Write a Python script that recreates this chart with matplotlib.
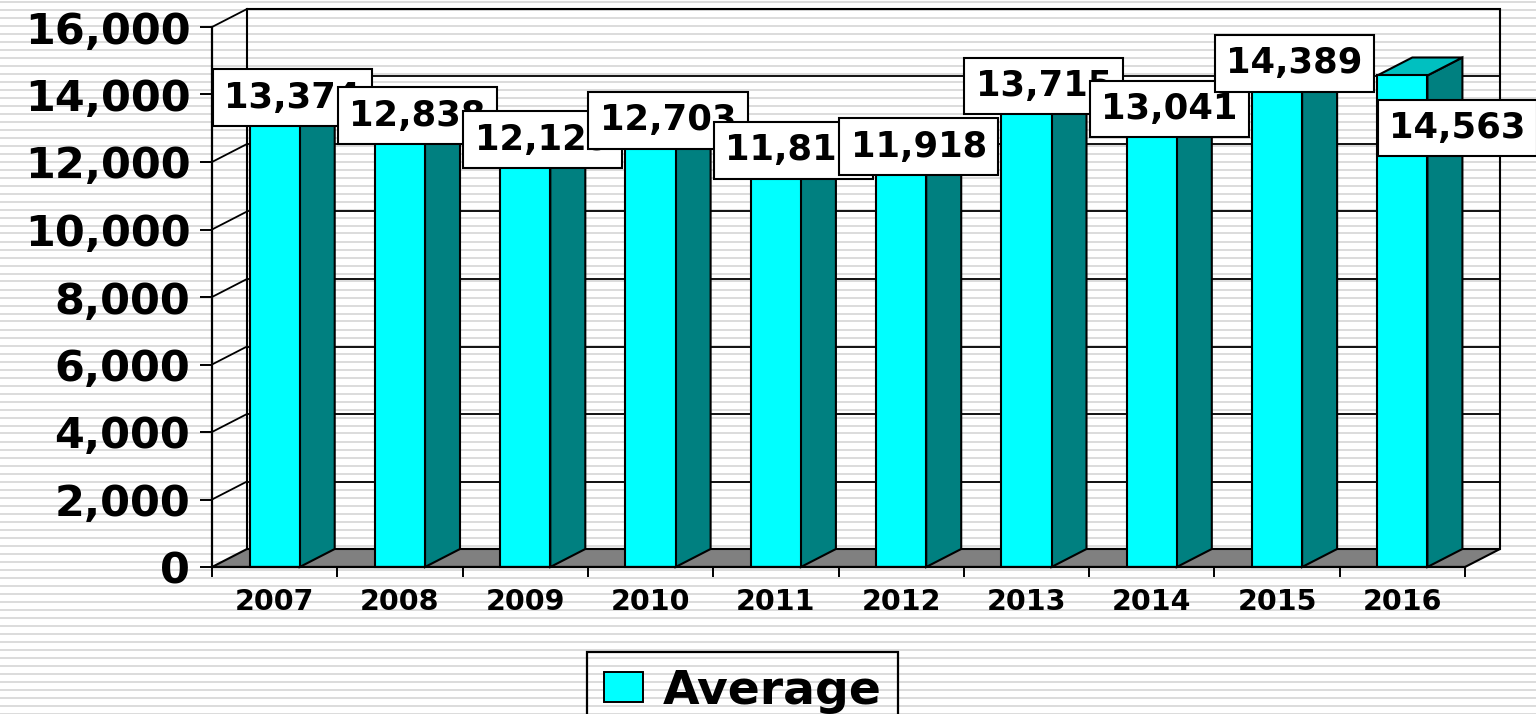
import numpy as np
import matplotlib.pyplot as plt
from matplotlib.patches import Polygon, Rectangle
from matplotlib.lines import Line2D

# chart values
years = ['2007', '2008', '2009', '2010', '2011', '2012', '2013', '2014', '2015', '2016']
average = [13374, 12838, 12129, 12703, 11815, 11918, 13715, 13041, 14389, 14563]
y_ticks = np.arange(0, 16001, 2000)

# label nudges (last one pushed down/right like the original)
label_dx = [0, 0, 0, 0, 0, 0, 0, 0, 0, 0.3]
label_dy = [0, 0, 0, 0, 0, 0, 0, 0, 0, -2090]

W, H = 1536, 714
fig = plt.figure(figsize=(W / 100, H / 100), dpi=100)
fig.patch.set_facecolor('white')

# striped background
for yy in np.arange(1.5, H, 8):
    fig.add_artist(Line2D([0, 1], [1 - yy / H] * 2, color='#dcdcdc', lw=1.44, zorder=0))

ax = fig.add_axes([212 / W, 1 - 567 / H, 1253 / W, 540 / H])
n = len(years)
ax.set_xlim(0, n)
ax.set_ylim(0, 16000)
ax.patch.set_visible(False)

# depth offset of the fake 3d
dx = 35 / 1253 * n
dy = 18 / 540 * 16000
top = y_ticks[-1]
edge = dict(edgecolor='black', linewidth=1.5, clip_on=False)

# back wall + side wall grid
ax.add_patch(Rectangle((dx, dy), n, top, fill=False, zorder=1, **edge))
for t in y_ticks[1:]:
    ax.plot([dx, n + dx], [t + dy, t + dy], color='black', lw=1.3, zorder=1, clip_on=False)
    ax.plot([0, dx], [t, t + dy], color='black', lw=1.3, zorder=1, clip_on=False)

# floor
ax.add_patch(Polygon([(0, 0), (n, 0), (n + dx, dy), (dx, dy)], closed=True,
                     facecolor='#808080', zorder=1.5, **edge))

# bars
hw = 0.2
for i, v in enumerate(average):
    c = i + 0.5
    side = [(c + hw, 0), (c + hw, v), (c + hw + dx, v + dy), (c + hw + dx, dy)]
    cap = [(c - hw, v), (c + hw, v), (c + hw + dx, v + dy), (c - hw + dx, v + dy)]
    ax.add_patch(Polygon(side, closed=True, facecolor='#008080', zorder=2, **edge))
    ax.add_patch(Polygon(cap, closed=True, facecolor='#00c0c0', zorder=2, **edge))
    ax.add_patch(Rectangle((c - hw, 0), 2 * hw, v, facecolor='#00ffff', zorder=2.1, **edge))

# value labels
for i, v in enumerate(average):
    c = i + 0.5
    ax.text(c + dx / 2 + label_dx[i], v + dy + label_dy[i], f'{v:,}',
            ha='center', va='center', fontsize=25.5, fontweight='bold',
            bbox=dict(boxstyle='square,pad=0.32', fc='white', ec='black', lw=1.5),
            zorder=10 + i, clip_on=False)

# axes styling
for s in ['top', 'right']:
    ax.spines[s].set_visible(False)
for s in ['left', 'bottom']:
    ax.spines[s].set_linewidth(1.6)
    ax.spines[s].set_zorder(3)

ax.set_yticks(y_ticks)
ax.set_yticklabels([f'{t:,}' for t in y_ticks], fontsize=31, fontweight='bold')
ax.tick_params(axis='y', length=8.6, width=1.4, pad=7)

ax.set_xticks(np.arange(n + 1))
ax.set_xticklabels([])
ax.set_xticks(np.arange(n) + 0.5, minor=True)
ax.set_xticklabels(years, minor=True, fontsize=20.5, fontweight='bold')
ax.tick_params(axis='x', which='major', length=7, width=1.4)
ax.tick_params(axis='x', which='minor', length=0, pad=15)

# legend
handle = Rectangle((0, 0), 1, 1, facecolor='#00ffff', edgecolor='black', linewidth=1.4)
leg = fig.legend([handle], ['Average'], loc='upper center',
                 bbox_to_anchor=(742.5 / W, 1 - 652 / H),
                 prop=dict(weight='bold', size=34), frameon=True, fancybox=False,
                 edgecolor='black', facecolor='none', framealpha=1,
                 handlelength=0.82, handleheight=0.6, borderpad=0.35,
                 handletextpad=0.42, borderaxespad=0)
leg.get_frame().set_linewidth(1.6)

fig.savefig('out.png', dpi=100)
